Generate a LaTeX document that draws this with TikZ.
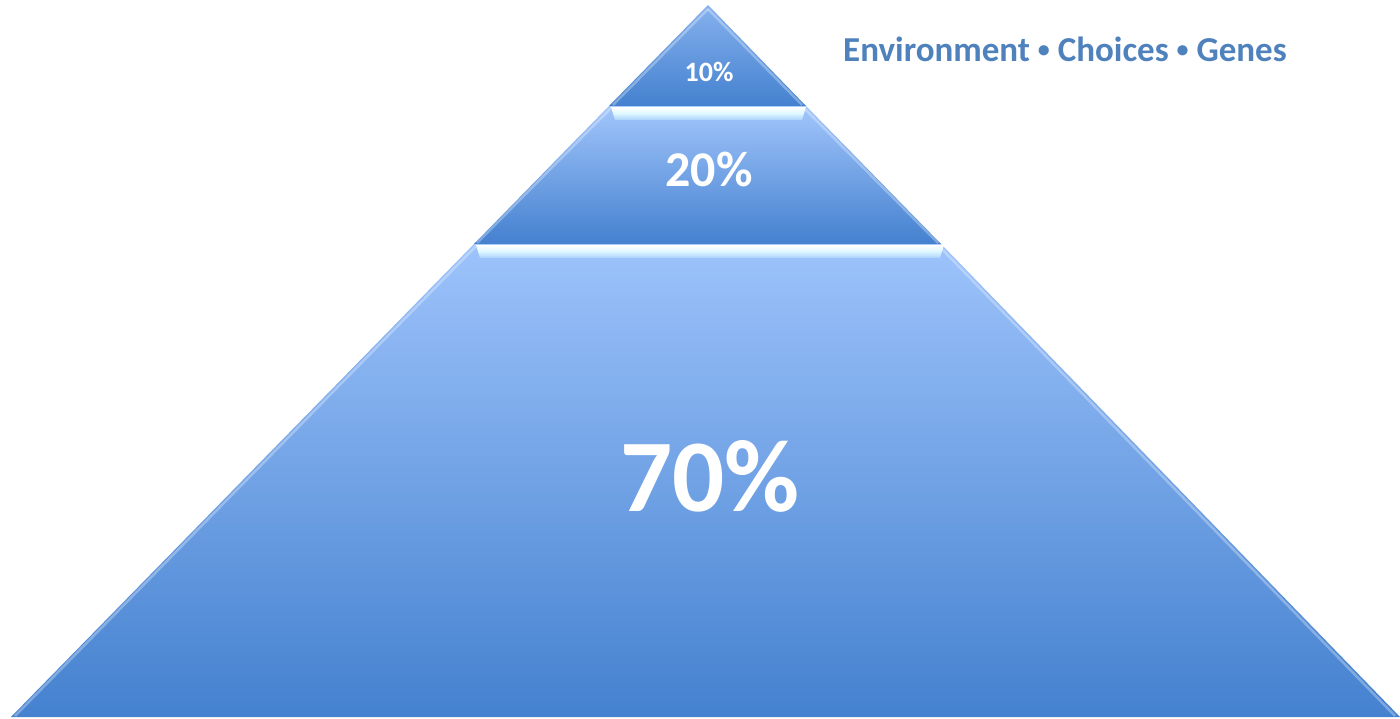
\documentclass[tikz,border=0pt]{standalone}
\usepackage{fontspec}
\setmainfont{Carlito}
\usetikzlibrary{calc}
\definecolor{hdr}{HTML}{4F81BD}
\definecolor{lt}{HTML}{9DC3FB}
\definecolor{dk}{HTML}{4481CF}
\definecolor{mid}{HTML}{86B1EE}
\definecolor{barA}{HTML}{FFFFFF}
\definecolor{barB}{HTML}{DDF7FF}
\definecolor{barC}{HTML}{ABD0FB}
\newcommand{\sepdot}{\space\raisebox{0.12em}{\fontsize{24}{24}\selectfont •}\space}
\tikzset{
  pct/.style={text=white, font=\bfseries, inner sep=0pt, anchor=base},
  barbox/.style={top color=barA, bottom color=barC, middle color=barB},
  bevel/.style={white, opacity=0.3, line width=2.5pt}
}
\begin{document}
\begin{tikzpicture}[x=1pt,y=-1pt]
\useasboundingbox (0,0) rectangle (1400,719);
\fill[white] (0,0) rectangle (1400,719);
% outline points
\coordinate (A) at (708,5);
\coordinate (L1) at (609,106);
\coordinate (R1) at (806,106);
\coordinate (L2) at (474,244);
\coordinate (R2) at (941,244);
\coordinate (L3) at (11,717);
\coordinate (R3) at (1400,717);
% bottom section
\shade[top color=lt, bottom color=dk] (L2) -- (R2) -- (R3) -- (L3) -- cycle;
\draw[bevel] ($(L2)+(3,1)$) -- ($(L3)+(4,-1)$);
\draw[bevel] ($(R2)+(-3,1)$) -- ($(R3)+(-5,-1)$);
% middle section
\shade[top color=lt!95!white, bottom color=dk] (L1) -- (R1) -- (R2) -- (L2) -- cycle;
\draw[bevel] ($(L1)+(3,1)$) -- ($(L2)+(3,-1)$);
\draw[bevel] ($(R1)+(-3,1)$) -- ($(R2)+(-3,-1)$);
% top section
\shade[top color=mid, bottom color=dk] (A) -- (R1) -- (L1) -- cycle;
\draw[bevel] ($(A)+(0,4)$) -- ($(L1)+(4,-1)$);
\draw[bevel] ($(A)+(0,4)$) -- ($(R1)+(-4,-1)$);
% highlight bars
\shade[barbox] (611,107) -- (806,107) -- (802,120) -- (615,120) -- cycle;
\shade[barbox] (476,245) -- (944,245) -- (940,258) -- (480,258) -- cycle;
% labels
\node[pct, font=\bfseries\fontsize{28}{28}\selectfont] (p10) at (709,82) {10\%};
\node[pct, font=\bfseries\fontsize{50}{50}\selectfont] (p20) at (709,187) {20\%};
\node[pct, font=\bfseries\fontsize{103}{103}\selectfont] (p70) at (710,511) {70\%};
\node[text=hdr, font=\bfseries\fontsize{35}{35}\selectfont, inner sep=0pt, anchor=base] (hdr) at (1065,62) {Environment\sepdot Choices\sepdot Genes};
\end{tikzpicture}
\end{document}
